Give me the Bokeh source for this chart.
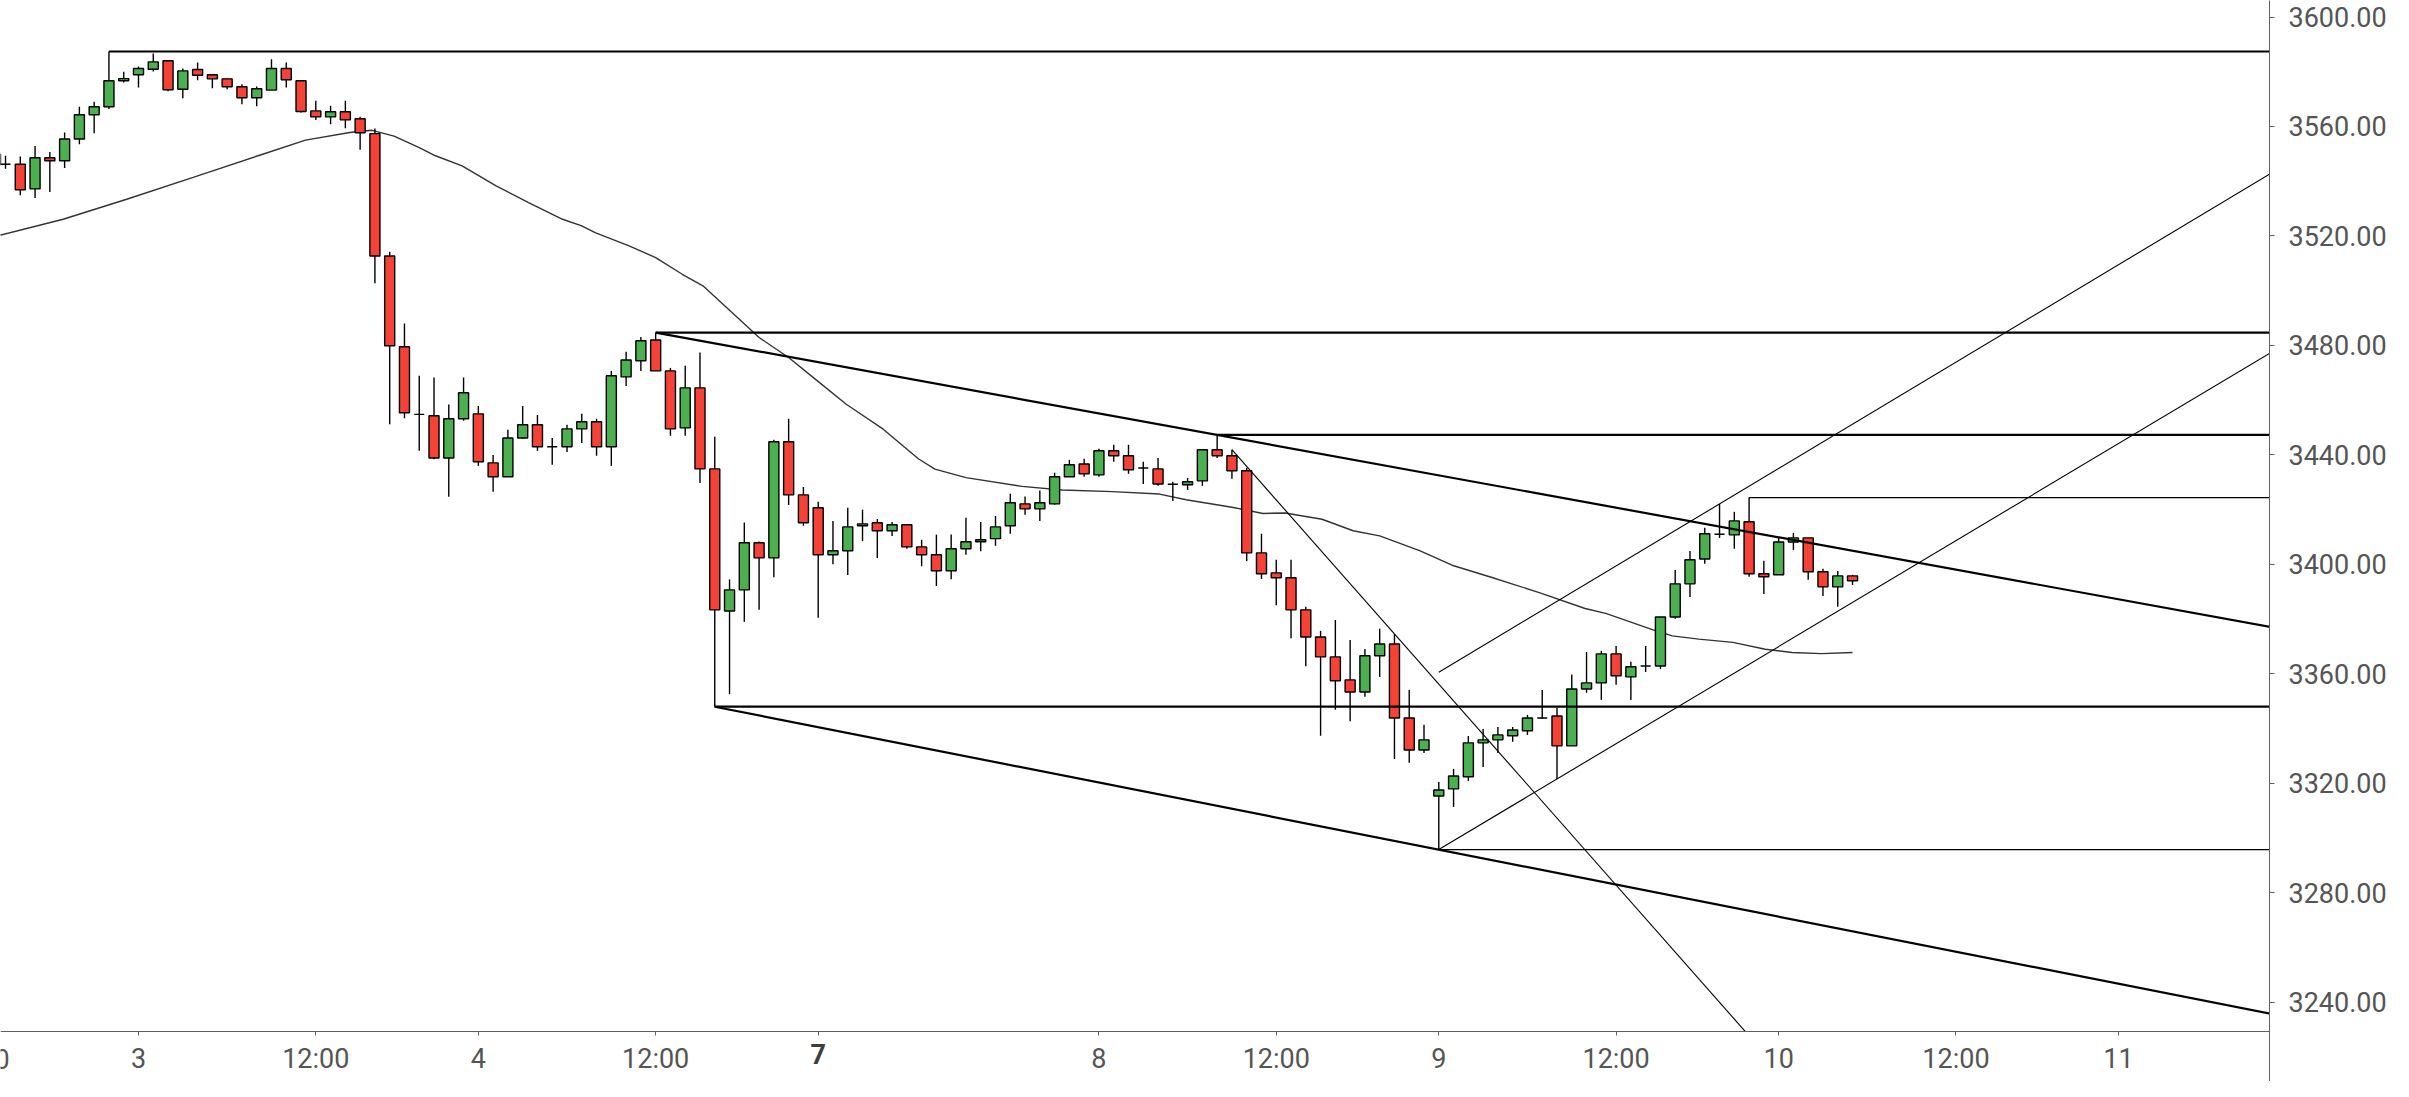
from bokeh.plotting import figure
from bokeh.models import Range1d, FixedTicker, PrintfTickFormatter, Label, ColumnDataSource
from bokeh.embed import file_html
from bokeh.resources import INLINE

# ---- hourly bars (bar index 0 = start of day "3") ----
bar_index = list(range(-10, 117))
open_ = [3549.9, 3546.2, 3546.2, 3537.2, 3548.6, 3547.5, 3555.4, 3564.3, 3567.2, 3576.7,
         3578.9, 3580.9, 3584.0, 3573.6, 3580.8, 3578.9, 3577.4, 3574.5, 3570.5, 3573.3,
         3581.2, 3576.7, 3565.7, 3563.5, 3565.4, 3562.8, 3557.4, 3512.7, 3479.5, 3454.8,
         3454.3, 3438.9, 3453.2, 3455.0, 3437.1, 3432.0, 3446.2, 3451.0, 3443.0, 3443.0,
         3449.5, 3452.1, 3443.0, 3468.5, 3474.4, 3482.0, 3470.7, 3449.9, 3464.5, 3434.9,
         3383.0, 3390.7, 3407.9, 3402.4, 3444.8, 3425.4, 3420.7, 3403.5, 3405.0, 3414.1,
         3415.2, 3412.3, 3414.5, 3406.4, 3403.5, 3397.7, 3405.7, 3408.3, 3409.4, 3414.1,
         3422.1, 3420.3, 3422.1, 3432.0, 3436.7, 3432.7, 3441.5, 3439.7, 3435.2, 3434.9,
         3429.3, 3429.1, 3430.5, 3441.9, 3439.7, 3434.2, 3404.2, 3396.9, 3395.1, 3383.4,
         3373.5, 3366.2, 3357.8, 3353.4, 3366.6, 3370.9, 3343.9, 3332.2, 3315.4, 3318.0,
         3322.4, 3334.8, 3335.9, 3337.4, 3339.2, 3343.9, 3344.6, 3333.7, 3354.5, 3356.7,
         3367.3, 3358.9, 3362.9, 3362.9, 3380.8, 3392.9, 3402.0, 3411.0, 3410.8, 3415.6,
         3396.6, 3396.2, 3408.2, 3409.7, 3397.3, 3391.8, 3395.8]
high = [3550.5, 3549.3, 3549.0, 3552.9, 3550.7, 3557.8, 3567.2, 3569.0, 3587.4, 3580.0,
        3581.9, 3586.7, 3584.0, 3581.2, 3583.4, 3578.9, 3577.4, 3575.4, 3574.6, 3584.6,
        3583.4, 3576.7, 3569.4, 3567.6, 3569.4, 3563.6, 3559.3, 3514.2, 3488.0, 3468.9,
        3468.3, 3458.4, 3468.3, 3457.9, 3440.0, 3449.2, 3457.9, 3454.6, 3446.2, 3451.0,
        3455.0, 3453.2, 3470.7, 3477.7, 3483.1, 3484.7, 3471.8, 3472.6, 3477.4, 3446.6,
        3394.5, 3415.3, 3408.4, 3445.5, 3453.2, 3428.3, 3422.9, 3415.9, 3420.7, 3420.0,
        3416.6, 3415.5, 3414.8, 3409.0, 3410.9, 3410.9, 3417.0, 3415.5, 3417.7, 3425.8,
        3424.8, 3427.0, 3433.5, 3438.2, 3438.6, 3442.3, 3443.7, 3443.7, 3437.5, 3438.9,
        3430.2, 3431.6, 3441.9, 3447.3, 3441.9, 3435.3, 3411.2, 3401.7, 3401.7, 3384.5,
        3375.7, 3379.7, 3372.4, 3369.1, 3376.5, 3374.6, 3354.1, 3341.4, 3320.5, 3325.3,
        3337.3, 3339.9, 3340.6, 3340.6, 3345.0, 3354.1, 3347.6, 3359.8, 3368.0, 3368.4,
        3370.2, 3364.4, 3370.2, 3380.8, 3398.0, 3404.9, 3413.4, 3422.1, 3419.2, 3424.4,
        3401.3, 3409.7, 3411.5, 3409.7, 3398.4, 3397.6, 3396.2]
low = [3545.5, 3544.6, 3534.9, 3533.9, 3536.1, 3544.8, 3553.5, 3557.5, 3566.4, 3576.1,
       3574.2, 3580.1, 3572.9, 3570.3, 3576.9, 3574.0, 3573.6, 3568.1, 3567.4, 3573.3,
       3574.2, 3565.1, 3562.4, 3560.8, 3559.4, 3551.5, 3502.7, 3451.2, 3453.4, 3441.5,
       3438.4, 3424.7, 3452.5, 3436.0, 3426.5, 3432.0, 3445.9, 3441.5, 3436.4, 3441.1,
       3444.4, 3439.7, 3436.0, 3465.2, 3470.7, 3470.7, 3447.0, 3447.0, 3429.7, 3348.0,
       3352.6, 3379.0, 3383.4, 3395.3, 3421.7, 3414.1, 3380.5, 3400.1, 3396.1, 3408.5,
       3402.3, 3410.4, 3405.7, 3399.3, 3392.1, 3394.6, 3403.5, 3404.8, 3406.8, 3411.2,
       3418.1, 3415.9, 3421.8, 3432.0, 3432.0, 3432.0, 3437.5, 3433.1, 3429.4, 3428.7,
       3423.2, 3427.2, 3428.7, 3438.9, 3431.3, 3401.2, 3394.7, 3385.1, 3373.0, 3362.8,
       3337.4, 3346.9, 3342.7, 3351.6, 3358.9, 3328.9, 3327.5, 3331.1, 3295.8, 3311.4,
       3320.9, 3326.0, 3331.1, 3335.2, 3337.7, 3343.6, 3321.6, 3333.7, 3353.1, 3350.5,
       3356.0, 3350.5, 3360.7, 3361.8, 3380.1, 3388.1, 3400.2, 3409.7, 3405.7, 3395.5,
       3389.2, 3396.2, 3405.3, 3394.4, 3388.5, 3384.5, 3392.5]
close = [3546.0, 3546.2, 3536.9, 3548.6, 3547.5, 3555.4, 3564.3, 3567.2, 3576.7, 3577.5,
         3581.2, 3583.6, 3573.4, 3580.3, 3578.7, 3577.4, 3574.5, 3570.5, 3573.8, 3581.2,
         3577.1, 3565.5, 3563.5, 3565.4, 3562.4, 3557.7, 3512.7, 3479.9, 3455.4, 3454.8,
         3438.9, 3453.2, 3462.7, 3437.5, 3432.0, 3446.2, 3451.0, 3443.0, 3443.0, 3449.5,
         3452.1, 3443.0, 3468.9, 3474.7, 3481.7, 3470.7, 3449.5, 3464.5, 3434.9, 3383.4,
         3390.7, 3407.9, 3402.4, 3444.8, 3425.4, 3415.2, 3403.5, 3405.0, 3413.7, 3414.8,
         3412.3, 3414.5, 3406.4, 3403.5, 3397.7, 3405.7, 3408.3, 3409.0, 3413.7, 3422.5,
         3420.3, 3422.5, 3432.0, 3436.4, 3433.1, 3441.5, 3439.7, 3434.6, 3435.2, 3429.4,
         3429.3, 3430.2, 3441.9, 3439.7, 3434.2, 3404.2, 3396.6, 3395.1, 3383.4, 3373.5,
         3366.2, 3357.5, 3353.4, 3366.6, 3370.9, 3343.9, 3332.2, 3335.9, 3317.6, 3322.7,
         3334.8, 3335.9, 3337.7, 3339.5, 3343.9, 3343.9, 3333.7, 3354.5, 3356.7, 3367.3,
         3359.3, 3362.6, 3362.9, 3380.8, 3392.9, 3401.7, 3411.2, 3411.0, 3415.9, 3396.6,
         3395.5, 3408.2, 3409.7, 3397.3, 3391.8, 3395.8, 3394.0]

# ---- moving average ----
ma_x = [-10.0, -5.1, -0.8, 3.7, 8.2, 11.3, 14.3, 15.8, 17.3, 19.0, 20.1, 21.9, 24.2, 26.4,
        28.7, 30.0, 30.9, 33.2, 35.0, 36.8, 38.2, 40.9, 42.0, 44.0, 45.8, 47.9, 50.4, 52.8,
        53.9, 56.0, 59.8, 62.5, 65.9, 69.1, 70.9, 74.0, 76.1, 77.6, 80.1, 82.2, 84.0, 86.7,
        88.9, 91.6, 94.8, 97.9, 99.3, 102.5, 103.8, 105.6, 107.9, 110.1, 111.9, 113.9, 116.0]
ma_y = [3519.4, 3526.1, 3533.4, 3541.4, 3549.5, 3555.0, 3557.8, 3558.6, 3556.5, 3552.3,
        3549.3, 3545.6, 3538.3, 3532.2, 3526.1, 3523.7, 3521.2, 3516.4, 3512.1, 3506.0,
        3501.8, 3488.4, 3482.9, 3475.6, 3467.7, 3458.5, 3449.4, 3438.5, 3434.8, 3431.7,
        3428.5, 3427.2, 3426.6, 3425.7, 3423.6, 3420.9, 3418.6, 3418.8, 3416.5, 3412.3,
        3410.4, 3405.0, 3399.7, 3395.2, 3389.7, 3383.9, 3382.1, 3376.1, 3373.9, 3372.7,
        3371.5, 3369.0, 3367.8, 3367.4, 3367.8]

# ---- axis ticks ----
x_tick_pos = [0, 12, 23, 35, 46, 65, 77, 88, 100, 111, 123, 134]
x_tick_lab = ["3", "12:00", "4", "12:00", "7", "8", "12:00", "9", "12:00", "10", "12:00", "11"]
bold_tick = 46                  # week start label drawn bold
prev_tick, prev_lab = -11, "12:00"   # label cut by the left edge
y_ticks = [3240, 3280, 3320, 3360, 3400, 3440, 3480, 3520, 3560, 3600]

# ---- drawings ----
hray_start = [-2, 35, 73, 109, 39, 88]
hray_price = [3587.4, 3484.7, 3447.3, 3424.4, 3348.0, 3295.8]
hray_thick = [True, True, True, False, True, False]

trend_x0 = [35, 39, 74, 88, 88]
trend_y0 = [3484.7, 3348.0, 3441.9, 3295.8, 3360.6]
trend_x1 = [73, 88, 108.7, 96, 107]
trend_y1 = [3447.3, 3295.8, 3229.6, 3321.6, 3422.1]
trend_thick = [True, True, False, False, False]

X_LEFT, X_RIGHT = -9.339, 144.22
Y_LOW, Y_HIGH = 3211.07, 3606.03
AXIS_PRICE = 3229.4            # where the time axis sits
LABEL_TOP = 3224.9             # top of the time-axis labels
FONT = "Roboto"
FS = "27px"
LABEL_COLOR = "#555555"
AXIS_COLOR = "#5f5f5f"

p = figure(width=2393, height=1081, output_backend="svg", toolbar_location=None,
           x_range=Range1d(X_LEFT, X_RIGHT), y_range=Range1d(Y_LOW, Y_HIGH),
           y_axis_location="right",
           min_border_left=0, min_border_top=0, min_border_right=124, min_border_bottom=0)
p.xgrid.visible = False
p.ygrid.visible = False
p.outline_line_color = None
p.background_fill_color = "white"
p.border_fill_color = "white"

# price axis
ya = p.yaxis[0]
ya.ticker = FixedTicker(ticks=y_ticks)
ya.formatter = PrintfTickFormatter(format="%.2f")
ya.major_tick_out = 5
ya.major_tick_in = 0
ya.minor_tick_out = 0
ya.minor_tick_in = 0
ya.major_label_standoff = 14
ya.major_label_text_font = FONT
ya.major_label_text_font_size = FS
ya.major_label_text_color = LABEL_COLOR
ya.axis_line_color = AXIS_COLOR
ya.major_tick_line_color = AXIS_COLOR

# time axis
xa = p.xaxis[0]
xa.fixed_location = AXIS_PRICE
xa.ticker = FixedTicker(ticks=x_tick_pos)
xa.major_label_overrides = {t: ("" if t == bold_tick else l) for t, l in zip(x_tick_pos, x_tick_lab)}
xa.major_tick_out = 4
xa.major_tick_in = 0
xa.minor_tick_out = 0
xa.minor_tick_in = 0
xa.major_label_standoff = 8
xa.major_label_text_font = FONT
xa.major_label_text_font_size = FS
xa.major_label_text_color = LABEL_COLOR
xa.axis_line_color = AXIS_COLOR
xa.major_tick_line_color = AXIS_COLOR

p.add_layout(Label(x=bold_tick, y=LABEL_TOP, text=x_tick_lab[x_tick_pos.index(bold_tick)],
                   text_align="center", text_baseline="top", text_font=FONT,
                   text_font_size=FS, text_font_style="bold", text_color="#3d3d3d"))
p.add_layout(Label(x=prev_tick, y=LABEL_TOP, text=prev_lab, text_align="center",
                   text_baseline="top", text_font=FONT, text_font_size=FS,
                   text_color=LABEL_COLOR))

# moving average
p.line(ma_x, ma_y, line_color="#333333", line_width=1.4)

# candles
top = [max(o, c) for o, c in zip(open_, close)]
bottom = [min(o, c) for o, c in zip(open_, close)]
colors = ["#4CAF50" if c >= o else "#F44336" for o, c in zip(open_, close)]
src = ColumnDataSource(dict(x=bar_index, o=open_, h=high, l=low, c=close,
                            top=top, bottom=bottom, color=colors))
p.segment(x0="x", y0="h", x1="x", y1="l", source=src, line_color="#000000", line_width=1.4)
p.vbar(x="x", width=0.68, top="top", bottom="bottom", source=src,
       fill_color="color", line_color="#000000", line_width=1.4)

# horizontal rays
for xs, pr, th in zip(hray_start, hray_price, hray_thick):
    p.segment(x0=[xs], y0=[pr], x1=[X_RIGHT + 2], y1=[pr], line_color="#000000",
              line_width=2.2 if th else 1.1)

# trend lines, extended to the right edge or down to the time axis
for x0, y0, x1, y1, th in zip(trend_x0, trend_y0, trend_x1, trend_y1, trend_thick):
    slope = (y1 - y0) / (x1 - x0)
    x_end = X_RIGHT + 2
    y_end = y0 + slope * (x_end - x0)
    if y_end < AXIS_PRICE:
        x_end = x0 + (AXIS_PRICE - y0) / slope
        y_end = AXIS_PRICE
    p.segment(x0=[x0], y0=[y0], x1=[x_end], y1=[y_end],
              line_color="#000000", line_width=2.2 if th else 1.1)

open("out.html", "w").write(file_html(p, INLINE))
